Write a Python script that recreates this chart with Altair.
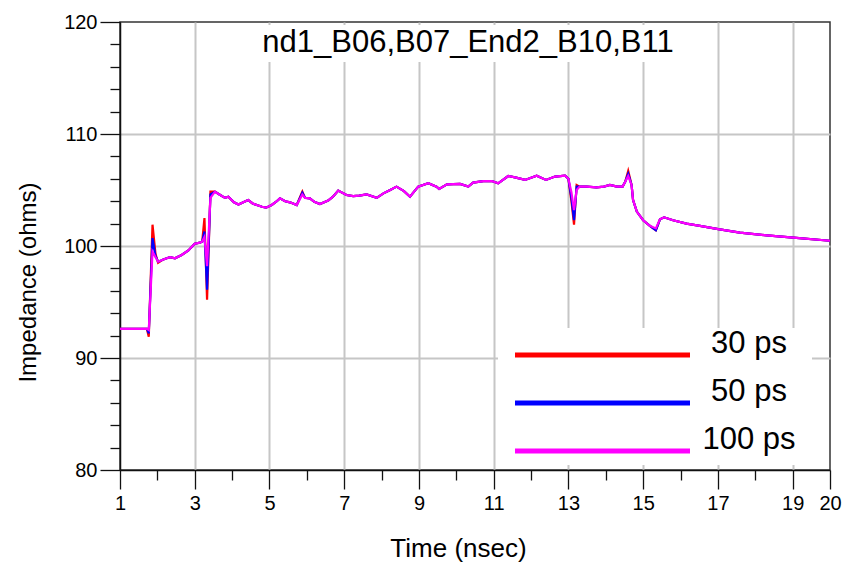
import altair as alt
import pandas as pd

# ---- data ----
time_ns = [1.0, 1.72, 1.77, 1.87, 1.95, 2.02, 2.16, 2.25, 2.34, 2.47, 2.65, 2.83, 3.0, 3.14, 3.2,
           3.26, 3.33, 3.42, 3.54, 3.66, 3.81, 3.9, 4.05, 4.17, 4.3, 4.43, 4.55, 4.66, 4.8, 4.91,
           5.06, 5.18, 5.28, 5.42, 5.55, 5.73, 5.88, 5.95, 6.08, 6.2, 6.35, 6.57, 6.7, 6.84, 7.06,
           7.24, 7.4, 7.6, 7.87, 8.05, 8.23, 8.4, 8.6, 8.76, 8.98, 9.25, 9.47, 9.54, 9.75, 10.1,
           10.32, 10.45, 10.72, 10.95, 11.12, 11.39, 11.6, 11.84, 12.15, 12.4, 12.64, 12.91, 13.0,
           13.08, 13.15, 13.22, 13.3, 13.49, 13.75, 13.95, 14.11, 14.3, 14.45, 14.52, 14.6, 14.69,
           14.73, 14.83, 15.0, 15.18, 15.34, 15.45, 15.56, 15.8, 16.16, 16.52, 17.01, 17.59, 18.31,
           19.02, 20.0]

z_100ps = [92.6, 92.6, 92.5, 99.5, 99.0, 98.6, 98.8, 98.9, 99.0, 98.9, 99.2, 99.6, 100.2, 100.3, 100.4,
           100.8, 98.2, 104.3, 104.85, 104.6, 104.3, 104.4, 103.9, 103.7, 103.9, 104.1, 103.8, 103.66, 103.5, 103.42,
           103.66, 103.95, 104.25, 104.0, 103.9, 103.66, 104.6, 104.3, 104.25, 103.95, 103.75, 104.05, 104.4, 104.95, 104.55,
           104.46, 104.5, 104.6, 104.3, 104.7, 105.0, 105.3, 104.9, 104.4, 105.3, 105.6, 105.3, 105.1, 105.5, 105.54,
           105.3, 105.66, 105.8, 105.8, 105.6, 106.25, 106.1, 105.9, 106.28, 105.9, 106.2, 106.28, 106.0,
           104.8, 103.2, 105.0, 105.3, 105.3, 105.24, 105.3, 105.45, 105.3, 105.3, 105.74, 106.25, 105.45,
           104.1, 103.07, 102.3, 101.8, 101.57, 102.38, 102.56, 102.3, 102.0, 101.8, 101.5, 101.2, 100.95,
           100.74, 100.47]

z_50ps = [92.6, 92.6, 92.2, 100.7, 99.1, 98.6, 98.8, 98.9, 99.0, 98.9, 99.2, 99.6, 100.2, 100.3, 100.4,
          101.3, 96.1, 104.6, 104.85, 104.6, 104.3, 104.4, 103.9, 103.7, 103.9, 104.1, 103.8, 103.66, 103.5, 103.42,
          103.66, 103.95, 104.25, 104.0, 103.9, 103.66, 104.75, 104.3, 104.25, 103.95, 103.75, 104.05, 104.4, 104.95, 104.55,
          104.46, 104.5, 104.6, 104.3, 104.7, 105.0, 105.3, 104.9, 104.4, 105.3, 105.6, 105.3, 105.1, 105.5, 105.54,
          105.3, 105.66, 105.8, 105.8, 105.6, 106.25, 106.1, 105.9, 106.28, 105.9, 106.2, 106.28, 106.0,
          104.3, 102.3, 105.3, 105.3, 105.3, 105.24, 105.3, 105.45, 105.3, 105.3, 105.74, 106.45, 105.45,
          104.1, 103.07, 102.3, 101.8, 101.4, 102.38, 102.56, 102.3, 102.0, 101.8, 101.5, 101.2, 100.95,
          100.74, 100.47]

z_30ps = [92.6, 92.6, 91.9, 101.9, 99.3, 98.5, 98.8, 98.9, 99.0, 98.9, 99.2, 99.6, 100.2, 100.3, 100.4,
          102.5, 95.2, 104.85, 104.85, 104.6, 104.3, 104.4, 103.9, 103.7, 103.9, 104.1, 103.8, 103.66, 103.5, 103.42,
          103.66, 103.95, 104.25, 104.0, 103.9, 103.66, 104.85, 104.3, 104.25, 103.95, 103.75, 104.05, 104.4, 104.95, 104.55,
          104.46, 104.5, 104.6, 104.3, 104.7, 105.0, 105.3, 104.9, 104.4, 105.3, 105.6, 105.3, 105.1, 105.5, 105.54,
          105.3, 105.66, 105.8, 105.8, 105.6, 106.25, 106.1, 105.9, 106.28, 105.9, 106.2, 106.28, 106.0,
          104.0, 101.9, 105.45, 105.3, 105.3, 105.24, 105.3, 105.45, 105.3, 105.3, 105.74, 106.7, 105.45,
          104.1, 103.07, 102.3, 101.8, 101.4, 102.38, 102.56, 102.3, 102.0, 101.8, 101.5, 101.2, 100.95,
          100.74, 100.47]

series_names = ["30 ps", "50 ps", "100 ps"]
series_colors = ["#ff0000", "#0000ff", "#ff00ff"]

x_major = [1, 3, 5, 7, 9, 11, 13, 15, 17, 19, 20]
x_minor = [2, 4, 6, 8, 10, 12, 14, 16, 18]
x_grid = [3, 5, 7, 9, 11, 13, 15, 17, 19]
y_major = [80, 90, 100, 110, 120]
y_minor = [82, 84, 86, 88, 92, 94, 96, 98, 102, 104, 106, 108, 112, 114, 116, 118]
y_grid = [90, 100, 110]

title_text = "nd1_B06,B07_End2_B10,B11"
x_title = "Time (nsec)"
y_title = "Impedance (ohms)"

FONT = "Liberation Sans"

rows = []
for name, vals in zip(series_names, [z_30ps, z_50ps, z_100ps]):
    for t, z in zip(time_ns, vals):
        rows.append({"t": t, "z": z, "series": name})
df = pd.DataFrame(rows)
legend_df = pd.DataFrame({"series": series_names})

xscale = alt.Scale(domain=[1, 20], nice=False, zero=False)
yscale = alt.Scale(domain=[80, 120], nice=False, zero=False)
color_scale = alt.Scale(domain=series_names, range=series_colors)
legend_y = alt.Y("series:N", scale=alt.Scale(type="point", domain=series_names, range=[333, 429], padding=0),
                 axis=None)

base = alt.Chart(df)

grid_layer = base.mark_line(strokeOpacity=0).encode(
    x=alt.X("t:Q", scale=xscale, axis=alt.Axis(values=x_grid, grid=True, gridColor="#c6c6c6", gridWidth=2,
                                               ticks=False, labels=False, domain=False, title=None, orient="bottom")),
    y=alt.Y("z:Q", scale=yscale, axis=alt.Axis(values=y_grid, grid=True, gridColor="#c6c6c6", gridWidth=2,
                                               ticks=False, labels=False, domain=False, title=None, orient="left")),
    detail="series:N",
)

minor_layer = base.mark_line(strokeOpacity=0).encode(
    x=alt.X("t:Q", scale=xscale, axis=alt.Axis(values=x_minor, grid=False, ticks=True, tickSize=10,
                                               tickColor="#111", tickWidth=1.3, labels=False, domain=False,
                                               title=None, orient="bottom")),
    y=alt.Y("z:Q", scale=yscale, axis=alt.Axis(values=y_minor, grid=False, ticks=True, tickSize=10,
                                               tickColor="#111", tickWidth=1.3, labels=False, domain=False,
                                               title=None, orient="left")),
    detail="series:N",
)

box_df = pd.DataFrame({"k": [0]})
title_box = alt.Chart(box_df).mark_rect(color="white").encode(
    x=alt.value(135), x2=alt.value(585), y=alt.value(3), y2=alt.value(40)
)
legend_box = alt.Chart(box_df).mark_rect(color="white").encode(
    x=alt.value(378), x2=alt.value(692), y=alt.value(306), y2=alt.value(443)
)

line_layer = base.mark_line(strokeWidth=2.2).encode(
    x=alt.X("t:Q", scale=xscale, axis=alt.Axis(
        values=x_major, grid=False, tickSize=19, tickColor="#111", tickWidth=1.3,
        domainColor="#111", domainWidth=1.5, labelFont=FONT, labelFontSize=20, labelColor="black",
        labelPadding=4, labelFlush=False, title=x_title, titleFont=FONT, titleFontSize=26,
        titleFontWeight="normal", titleColor="black", titleX=338, titleY=78, titleBaseline="middle",
        titleAlign="center", orient="bottom")),
    y=alt.Y("z:Q", scale=yscale, axis=alt.Axis(
        values=y_major, grid=False, tickSize=20, tickColor="#111", tickWidth=1.3,
        domainColor="#111", domainWidth=1.5, labelFont=FONT, labelFontSize=20, labelColor="black",
        labelPadding=3, labelFlush=False, title=y_title, titleFont=FONT, titleFontSize=24,
        titleFontWeight="normal", titleColor="black", titleX=-92, titleY=260, titleBaseline="middle",
        titleAlign="center", orient="left")),
    color=alt.Color("series:N", scale=color_scale, legend=None),
    order=alt.Order("t:Q"),
)

legend_lines = alt.Chart(legend_df).mark_rule(strokeWidth=5).encode(
    x=alt.value(395), x2=alt.value(570), y=legend_y,
    color=alt.Color("series:N", scale=color_scale, legend=None),
)
legend_text = alt.Chart(legend_df).mark_text(
    font=FONT, fontSize=31, align="center", baseline="alphabetic", color="black", dy=-2
).encode(x=alt.value(629), y=legend_y, text="series:N")

title_layer = alt.Chart(pd.DataFrame({"title": [title_text]})).mark_text(
    font=FONT, fontSize=31, align="center", baseline="middle", color="black"
).encode(text="title:N", x=alt.value(348), y=alt.value(21))

chart = alt.layer(
    grid_layer, minor_layer, title_box, legend_box, line_layer, legend_lines, legend_text, title_layer
).resolve_axis(
    x="independent", y="independent"
).resolve_scale(
    y="independent"
).properties(
    width=710, height=448,
    padding={"left": 120, "top": 22, "right": 14, "bottom": 95},
    autosize=alt.AutoSizeParams(type="none"),
    background="white",
).configure_view(stroke="#333", strokeWidth=1.5)

chart.save("out.html", embed_options={"renderer": "svg", "actions": False})
